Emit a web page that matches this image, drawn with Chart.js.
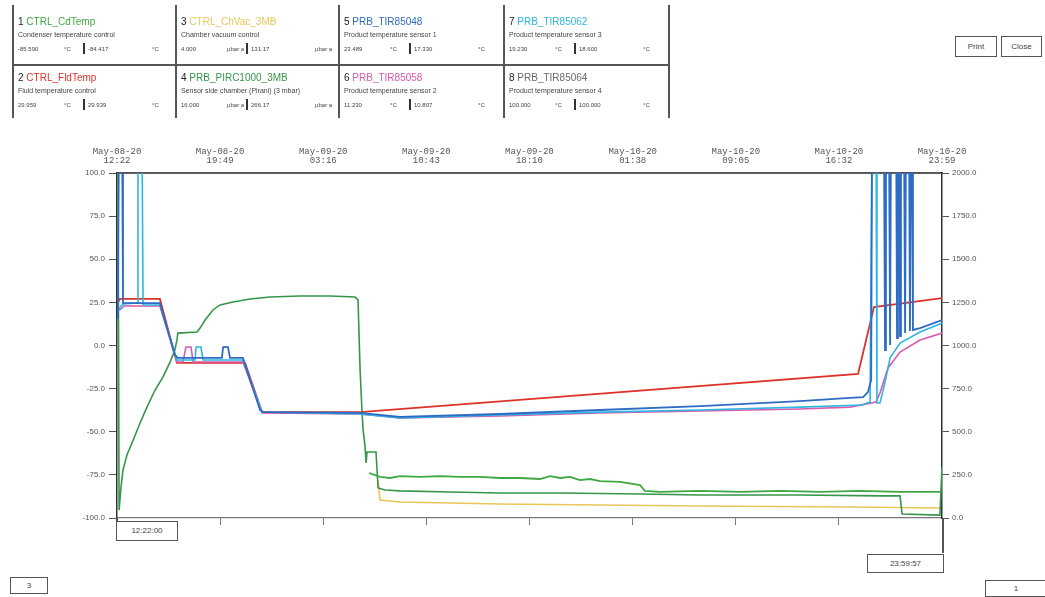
<!DOCTYPE html>
<html>
<head>
<meta charset="utf-8">
<title>Trend May-08-20 – May-10-20</title>
<script src="https://cdn.jsdelivr.net/npm/chart.js@4.4.1/dist/chart.umd.min.js"></script>
<style>
  html, body { margin: 0; padding: 0; background: #fff; }
  body { position: relative; width: 1045px; height: 597px; overflow: hidden;
         font-family: "Liberation Sans", Arial, sans-serif; color: #333; }
  #trend { position: absolute; left: 0; top: 0; }
  .ln { position: absolute; background: #555; }
  .tx { position: absolute; white-space: nowrap; line-height: 1; }
  .ttl { font-size: 10px; }
  .dsc { font-size: 7px; color: #444; }
  .val { font-size: 6px; color: #444; }
  .box { position: absolute; border: 1px solid #555; background: #fff; box-sizing: border-box;
         font-size: 8px; color: #444; text-align: center; }
</style>
</head>
<body>
<canvas id="trend" width="1045" height="597"></canvas>
<div id="overlay"></div>
<script>
// ---- channel table ----
const channelNames = ['CTRL_CdTemp', 'CTRL_FldTemp', 'CTRL_ChVac_3MB', 'PRB_PIRC1000_3MB',
                      'PRB_TIR85048', 'PRB_TIR85058', 'PRB_TIR85062', 'PRB_TIR85064'];
const channelDescs = ['Condenser temperature control', 'Fluid temperature control',
                      'Chamber vacuum control', 'Sensor side chamber (Pirani) (3 mbar)',
                      'Product temperature sensor 1', 'Product temperature sensor 2',
                      'Product temperature sensor 3', 'Product temperature sensor 4'];
const channelFirst = ['-85.590', '29.959', '4.000', '16.000', '23.489', '11.230', '19.230', '100.000'];
const channelLast  = ['-84.417', '29.939', '131.17', '266.17', '17.330', '10.807', '18.600', '100.000'];
const channelUnits = ['°C', '°C', 'µbar a', 'µbar a', '°C', '°C', '°C', '°C'];
const channelColors = ['#3fa843', '#dd3229', '#e9c65a', '#35964a', '#2c6cc4', '#d95aae', '#2fb6e0', '#6b6b6b'];

// ---- time axis (minutes since May-08-20 12:22) ----
const TOTAL_MIN = 3577;
const tickMinutes = [0, 447, 894, 1341, 1788, 2236, 2683, 3130, 3577];
const tickDates = ['May-08-20', 'May-08-20', 'May-09-20', 'May-09-20', 'May-09-20',
                   'May-10-20', 'May-10-20', 'May-10-20', 'May-10-20'];
const tickTimes = ['12:22', '19:49', '03:16', '10:43', '18:10', '01:38', '09:05', '16:32', '23:59'];

// over-range reading, runs off the top of the plot
const OVR = 130;

// 1 CTRL_CdTemp (°C)
const cdTime = [1093, 1119, 1140, 1184, 1227, 1314, 1401, 1487, 1574, 1661, 1747, 1834, 1877, 1921,
                1964, 2007, 2051, 2094, 2181, 2268, 2289, 2354, 2528, 2702, 2875, 3048, 3222, 3395, 3568];
const cdTemp = [-73.9, -75.1, -76.2, -76.8, -75.7, -76.2, -75.7, -76.2, -76.2, -76.8, -76.8, -77.4, -75.7, -76.8,
                -76.2, -78.0, -77.4, -78.6, -79.1, -80.9, -84.3, -84.9, -84.3, -84.9, -84.3, -84.9, -84.3, -84.9, -84.9];

// 2 CTRL_FldTemp (°C)
const fldTime = [4, 13, 186, 260, 555, 629, 1054, 3213, 3282, 3577];
const fldTemp = [25.2, 27.0, 27.0, -10.1, -10.1, -38.6, -38.6, -16.5, 22.3, 27.5];

// 3 CTRL_ChVac_3MB (right axis)
const vacTime = [1132, 1140, 1227, 1661, 2528, 3178, 3568];
const vacValue = [220, 104, 93, 81, 70, 64, 58];

// 4 PRB_PIRC1000_3MB (right axis)
const pirTime = [4, 9, 17, 26, 43, 65, 100, 130, 165, 199, 230, 251, 260, 264, 347, 360, 382, 416, 447, 503,
                 577, 663, 793, 923, 1032, 1045, 1054, 1062, 1067, 1075, 1080, 1084, 1123, 1132, 1162, 1227,
                 1444, 1661, 1921, 2268, 2528, 2961, 3308, 3395, 3404, 3568, 3577];
const pirValue = [2200, 46, 174, 278, 365, 435, 551, 643, 742, 817, 904, 974, 1032, 1072, 1078, 1101, 1148, 1206, 1235, 1252,
                  1270, 1281, 1287, 1287, 1281, 1264, 858, 626, 510, 423, 319, 383, 383, 174, 162, 157,
                  151, 145, 145, 139, 133, 133, 128, 128, 23, 17, 296];

// 5 PRB_TIR85048 (°C)
const p1Time = [0, 4, 9, 22, 26, 186, 251, 264, 455, 460, 481, 490, 546, 620, 633, 1054, 1227, 1661, 2094, 2528,
                2961, 3178, 3235, 3256, 3270, 3274, 3325, 3330, 3334, 3347, 3352, 3356, 3378, 3382, 3386, 3391,
                3395, 3399, 3412, 3417, 3421, 3434, 3438, 3443, 3447, 3451, 3482, 3577];
const p1Temp = [15.9, 23.5, OVR, OVR, 24.6, 24.6, -5.5, -7.2, -7.2, -0.9, -0.9, -7.2, -7.2, -37.4, -38.6, -39.1, -41.4, -39.7, -37.4, -35.1,
                -32.2, -30.4, -29.9, -27.0, -20.0, OVR, OVR, -2.6, OVR, OVR, 0.3, OVR, OVR, 4.3, OVR, OVR,
                5.5, OVR, OVR, 7.2, OVR, OVR, 8.4, OVR, OVR, 9.0, 10.1, 14.8];

// 6 PRB_TIR85058 (°C)
const p2Time = [13, 30, 186, 260, 286, 299, 321, 330, 546, 629, 1054, 1227, 1661, 2094, 2528, 2961, 3178,
                3291, 3308, 3343, 3395, 3482, 3577];
const p2Temp = [20.6, 22.9, 22.9, -9.6, -9.6, -0.9, -0.9, -9.6, -9.6, -39.1, -39.7, -42.0, -40.9, -39.1, -38.0, -36.8, -35.7,
                -32.8, -27.5, -13.0, -3.8, 3.2, 7.2];

// 7 PRB_TIR85062 (°C)
const p3Time = [4, 17, 30, 87, 91, 108, 113, 186, 260, 338, 343, 364, 373, 546, 629, 1054, 1227, 1661, 2094, 2528,
                2961, 3230, 3265, 3274, 3291, 3295, 3308, 3330, 3352, 3395, 3482, 3577];
const p3Temp = [19.4, 22.9, 24.1, 24.6, OVR, OVR, 23.5, 23.5, -8.4, -8.4, -0.9, -0.9, -8.4, -8.4, -38.6, -39.7, -42.0, -40.3, -38.6, -37.4,
                -35.7, -34.5, -32.8, OVR, OVR, -33.3, -33.3, -21.2, -7.2, 1.4, 7.8, 13.0];

// 8 PRB_TIR85064 (°C)
const p4Time = [0, 3577];
const p4Temp = [100, 100];

const pts = (t, v) => t.map((x, i) => ({ x, y: v[i] }));

// ---- header table ----
const overlay = document.getElementById('overlay');
function add(cls, x, y, w, h, text, color) {
  const d = document.createElement('div');
  d.className = cls;
  d.style.left = x + 'px';
  d.style.top = y + 'px';
  if (w != null) d.style.width = w + 'px';
  if (h != null) d.style.height = h + 'px';
  if (text != null) d.textContent = text;
  if (color) d.style.color = color;
  overlay.appendChild(d);
  return d;
}
const colLeft = [12, 175, 338, 503];
const rowTop = [8, 64];
[12, 175, 338, 503, 668].forEach(x => add('ln', x, 5, 1.5, 113));
add('ln', 12, 64, 657, 1.5);
channelNames.forEach((name, i) => {
  const L = colLeft[Math.floor(i / 2)], T = rowTop[i % 2];
  const t = add('tx ttl', L + 6, T + 9);
  const n = document.createElement('span'); n.textContent = (i + 1) + ' '; n.style.color = '#222';
  const s = document.createElement('span'); s.textContent = name; s.style.color = channelColors[i];
  t.appendChild(n); t.appendChild(s);
  add('tx dsc', L + 6, T + 23, null, null, channelDescs[i]);
  add('tx val', L + 6, T + 38, null, null, channelFirst[i]);
  add('tx val', L + 52, T + 38, null, null, channelUnits[i]);
  add('ln', L + 71, T + 35, 2, 11).style.background = '#333';
  add('tx val', L + 76, T + 38, null, null, channelLast[i]);
  add('tx val', L + 140, T + 38, null, null, channelUnits[i]);
});

// buttons and cursor boxes
add('box', 955, 36, 42, 21, 'Print').style.lineHeight = '19px';
add('box', 1001, 36, 41, 21, 'Close').style.lineHeight = '19px';
add('ln', 116, 518, 1.5, 23);
add('ln', 942, 518, 1.5, 35);
add('box', 116, 521, 62, 20, '12:22:00').style.lineHeight = '18px';
add('box', 867, 554, 77, 19, '23:59:57').style.lineHeight = '17px';
add('box', 10, 577, 38, 17, '3').style.lineHeight = '15px';
add('box', 985, 580, 62, 17, '1').style.lineHeight = '15px';

// ---- chart ----
const axisFont = { family: '"Liberation Sans", Arial, sans-serif', size: 8 };
const line = (label, t, v, color, axis, width) => ({
  label, data: pts(t, v), borderColor: color, backgroundColor: color,
  yAxisID: axis, borderWidth: width || 1.6, pointRadius: 0, tension: 0, fill: false
});

new Chart(document.getElementById('trend'), {
  type: 'line',
  data: {
    datasets: [
      line(channelNames[4], p1Time, p1Temp, channelColors[4], 'y', 1.8),
      line(channelNames[6], p3Time, p3Temp, channelColors[6], 'y'),
      line(channelNames[5], p2Time, p2Temp, channelColors[5], 'y'),
      line(channelNames[1], fldTime, fldTemp, channelColors[1], 'y', 1.8),
      line(channelNames[0], cdTime, cdTemp, channelColors[0], 'y', 1.8),
      line(channelNames[3], pirTime, pirValue, channelColors[3], 'y2'),
      line(channelNames[2], vacTime, vacValue, channelColors[2], 'y2'),
      line(channelNames[7], p4Time, p4Temp, channelColors[7], 'y', 1.2)
    ]
  },
  options: {
    responsive: false,
    animation: false,
    layout: { padding: 0 },
    plugins: { legend: { display: false }, tooltip: { enabled: false } },
    scales: {
      x: {
        type: 'linear', position: 'bottom', min: 0, max: TOTAL_MIN,
        afterBuildTicks: s => { s.ticks = tickMinutes.map(v => ({ value: v })); },
        ticks: { display: false },
        grid: { drawOnChartArea: false, tickLength: 7, color: '#777', lineWidth: 1 },
        border: { color: '#777', width: 1.2 },
        afterFit: s => { s.height = 79; }
      },
      xTop: {
        type: 'linear', position: 'top', min: 0, max: TOTAL_MIN,
        afterBuildTicks: s => { s.ticks = tickMinutes.map(v => ({ value: v })); },
        ticks: {
          autoSkip: false, maxRotation: 0, padding: 8, color: '#555',
          font: { family: '"Liberation Mono", monospace', size: 9, lineHeight: 1.0 },
          callback: (v, i) => [tickDates[i], tickTimes[i]]
        },
        grid: { drawOnChartArea: false, drawTicks: false },
        border: { color: '#555', width: 2 },
        afterFit: s => { s.height = 173; }
      },
      y: {
        position: 'left', min: -100, max: 100,
        ticks: { stepSize: 25, padding: 4, color: '#555', font: axisFont, callback: v => v.toFixed(1) },
        grid: { drawOnChartArea: false, tickLength: 8, color: '#555' },
        border: { color: '#333', width: 1.5 },
        afterFit: s => { s.width = 117; }
      },
      y2: {
        position: 'right', min: 0, max: 2000,
        ticks: { stepSize: 250, padding: 3, color: '#555', font: axisFont, callback: v => v.toFixed(1) },
        grid: { drawOnChartArea: false, tickLength: 7, color: '#555' },
        border: { color: '#333', width: 1.5 },
        afterFit: s => { s.width = 103; }
      }
    }
  }
});
</script>
</body>
</html>
